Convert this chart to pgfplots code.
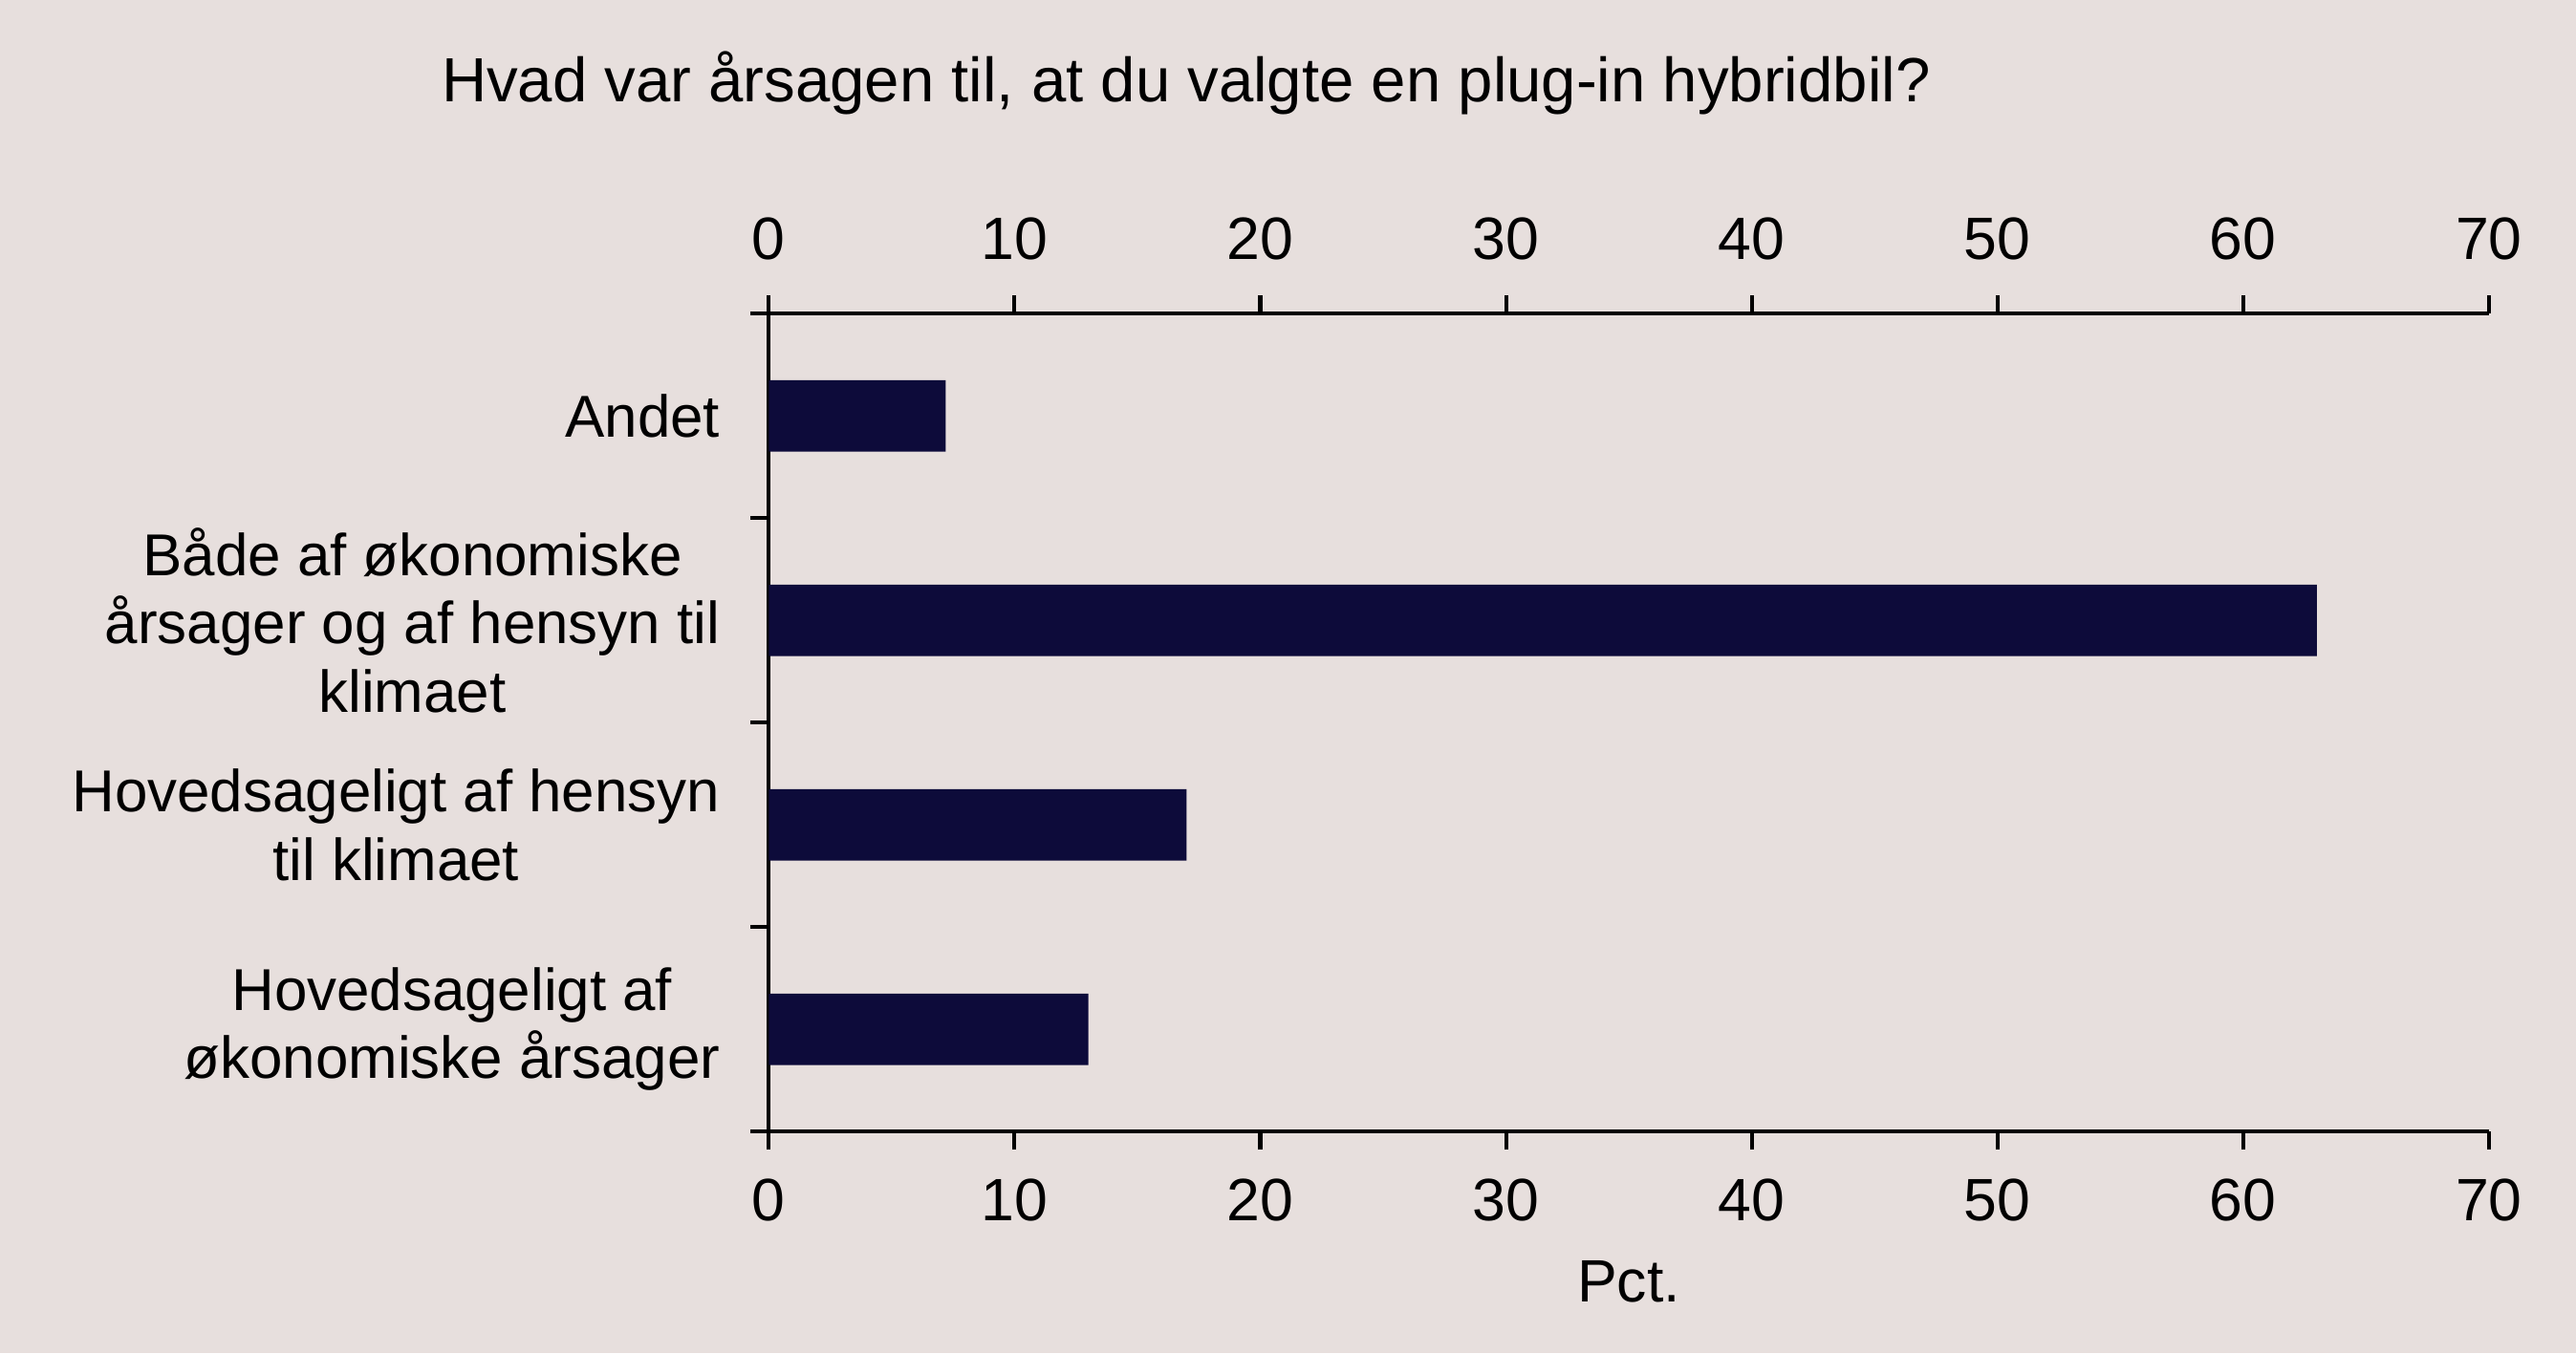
\documentclass[border=0pt]{standalone}
\usepackage{pgfplots}
\pgfplotsset{compat=1.18}
\usepackage{fontspec}
\setmainfont{Liberation Sans}
\definecolor{bg}{RGB}{231,223,221}
\definecolor{barcol}{RGB}{13,11,58}

\begin{document}
\begin{tikzpicture}
\fill[bg] (-117pt,-33.75pt) rectangle (275pt,172.25pt);
\useasboundingbox (-117pt,-33.75pt) rectangle (275pt,172.25pt);
\pgfplotsset{base/.style={
    scale only axis, width=261.75pt, height=124.5pt,
    at={(0,0)}, anchor=south west,
    xmin=0, xmax=70, ymin=-0.5, ymax=3.5,
    xtick={0,10,...,70},
    tick align=outside, major tick length=2.75pt,
    tick style={black, line width=0.6pt},
    axis line style={black, line width=0.6pt, -},
    ticklabel style={font=\fontsize{9.1}{10.4}\selectfont},
    /pgf/number format/assume math mode=true,
}}
\begin{axis}[base,
    axis x line*=bottom, axis y line*=left,
    ytick={-0.5,0.5,1.5,2.5,3.5}, yticklabels={},
    extra y ticks={0,1,2,3},
    extra y tick labels={{Hovedsageligt af\\økonomiske årsager},
        {Hovedsageligt af hensyn\\til klimaet},
        {Både af økonomiske\\årsager og af hensyn til\\klimaet},
        {Andet}},
    extra y tick style={major tick length=0pt,
        yticklabel style={align=center, anchor=east, inner sep=0pt, xshift=-7.25pt,
            font=\fontsize{9.0}{10.4}\selectfont}},
    xticklabel style={anchor=north, inner sep=0pt, yshift=-4.25pt},
    xlabel={Pct.},
    xlabel style={font=\fontsize{9.1}{10.4}\selectfont, at={(axis description cs:0.5,0)}, anchor=base, yshift=-26pt},
]
\addplot[xbar, fill=barcol, draw=none, bar width=0.35] coordinates {(13,0) (17,1) (63,2) (7.2,3)};
\end{axis}
\begin{axis}[base,
    axis x line*=top, axis y line=none,
    xticklabel style={anchor=south, inner sep=0pt, yshift=5.25pt},
]
\end{axis}
\node[anchor=base, font=\fontsize{9.5}{11}\selectfont] at (63.5pt,156.75pt) {Hvad var årsagen til, at du valgte en plug-in hybridbil?};
\end{tikzpicture}
\end{document}
